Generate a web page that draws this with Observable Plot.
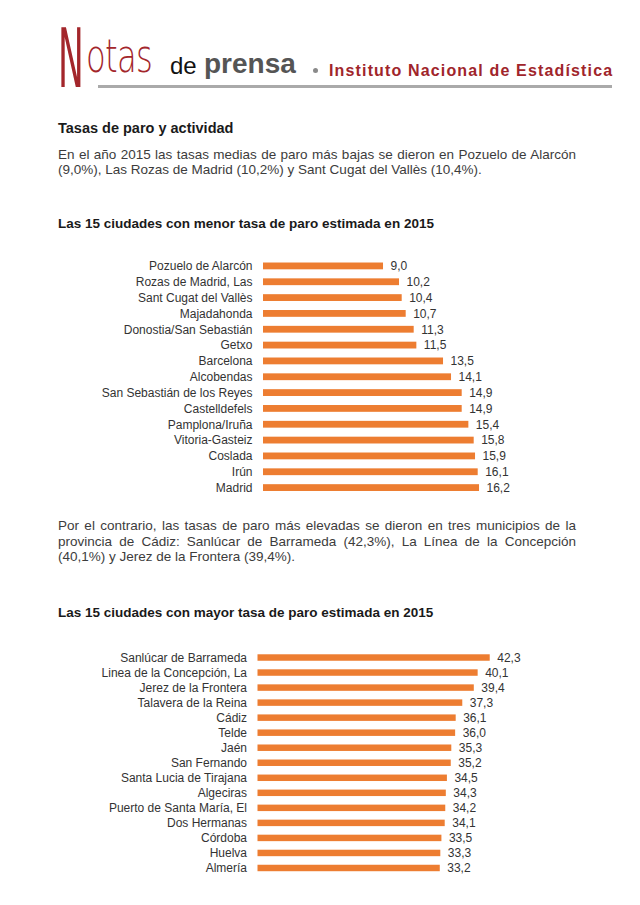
<!DOCTYPE html>
<html>
<head>
<meta charset="utf-8">
<script src="https://cdn.jsdelivr.net/npm/d3@7"></script>
<script src="https://cdn.jsdelivr.net/npm/@observablehq/plot@0.6"></script>
<style>
  html, body { margin: 0; padding: 0; background: #fff; }
  #page { position: relative; width: 640px; height: 905px; overflow: hidden; font-family: "Liberation Sans", Arial, sans-serif; }
  .abs { position: absolute; white-space: nowrap; }
  .para { position: absolute; left: 58px; width: 518px; font-size: 13.5px; line-height: 15.5px; color: #3c3c3c; text-align: justify; white-space: normal; }
  .sub { position: absolute; left: 58px; font-size: 13.5px; line-height: 16px; font-weight: bold; color: #1a1a1a; white-space: nowrap; }
  .chart { position: absolute; left: 0; }
</style>
</head>
<body>
<div id="page">
  <div class="abs" style="left:58px;top:18.4px;color:#a3262b;font-family:'DejaVu Sans';font-size:82px;line-height:1;font-weight:normal;transform:scaleX(0.42);transform-origin:left top;">N</div>
  <div class="abs" style="left:86px;top:33px;color:#a3262b;font-family:'DejaVu Sans';font-size:46px;line-height:1;font-weight:200;transform:scaleX(0.7);transform-origin:left top;letter-spacing:-1px;">otas</div>
  <div class="abs" style="left:170px;top:53.7px;font-size:24px;line-height:1;color:#111;">de</div>
  <div class="abs" style="left:204px;top:50.3px;font-size:28px;line-height:1;font-weight:bold;color:#555;">prensa</div>
  <div class="abs" style="left:313px;top:68px;width:5px;height:5px;border-radius:50%;background:#8a8a8a;"></div>
  <div class="abs" style="left:329px;top:62.5px;font-size:16px;line-height:1;font-weight:bold;letter-spacing:1.15px;color:#a0252b;">Instituto Nacional de Estadística</div>
  <div class="abs" style="left:98px;top:85px;width:514px;height:3px;background:#aaaaaa;"></div>

  <div class="abs" style="left:58px;top:119.8px;font-size:14.5px;line-height:17px;font-weight:bold;color:#1a1a1a;">Tasas de paro y actividad</div>
  <div class="para" style="top:146.9px;">En el año 2015 las tasas medias de paro más bajas se dieron en Pozuelo de Alarcón (9,0%), Las Rozas de Madrid (10,2%) y Sant Cugat del Vallès (10,4%).</div>
  <div class="sub" style="top:215.6px;">Las 15 ciudades con menor tasa de paro estimada en 2015</div>
  <div class="chart" id="chart1" style="top:257.8px;"></div>

  <div class="para" style="top:518.3px;">Por el contrario, las tasas de paro más elevadas se dieron en tres municipios de la provincia de Cádiz: Sanlúcar de Barrameda (42,3%), La Línea de la Concepción (40,1%) y Jerez de la Frontera (39,4%).</div>
  <div class="sub" style="top:604.6px;">Las 15 ciudades con mayor tasa de paro estimada en 2015</div>
  <div class="chart" id="chart2" style="top:649.8px;"></div>
</div>
<script>
const cities1 = ["Pozuelo de Alarcón", "Rozas de Madrid, Las", "Sant Cugat del Vallès", "Majadahonda", "Donostia/San Sebastián", "Getxo", "Barcelona", "Alcobendas", "San Sebastián de los Reyes", "Castelldefels", "Pamplona/Iruña", "Vitoria-Gasteiz", "Coslada", "Irún", "Madrid"];
const values1 = [9.0, 10.2, 10.4, 10.7, 11.3, 11.5, 13.5, 14.1, 14.9, 14.9, 15.4, 15.8, 15.9, 16.1, 16.2];

const cities2 = ["Sanlúcar de Barrameda", "Linea de la Concepción, La", "Jerez de la Frontera", "Talavera de la Reina", "Cádiz", "Telde", "Jaén", "San Fernando", "Santa Lucia de Tirajana", "Algeciras", "Puerto de Santa María, El", "Dos Hermanas", "Córdoba", "Huelva", "Almería"];
const values2 = [42.3, 40.1, 39.4, 37.3, 36.1, 36.0, 35.3, 35.2, 34.5, 34.3, 34.2, 34.1, 33.5, 33.3, 33.2];

const fmt = v => v.toFixed(1).replace(".", ",");
const orange = "#ed7d31";

function barChart(cities, values, opts) {
  const data = cities.map((c, i) => ({city: c, value: values[i]}));
  return Plot.plot({
    width: 640,
    height: opts.height,
    marginLeft: opts.marginLeft,
    marginRight: opts.marginRight,
    marginTop: 0,
    marginBottom: 0,
    style: {fontFamily: "'Liberation Sans', Arial, sans-serif", fontSize: "12px", color: "#333", background: "transparent"},
    x: {domain: [0, opts.xmax], axis: null},
    y: {domain: cities, paddingInner: 0.57, paddingOuter: 0.285, round: false, label: null},
    marks: [
      Plot.barX(data, {x: "value", y: "city", fill: orange}),
      Plot.text(data, {x: "value", y: "city", text: d => fmt(d.value), textAnchor: "start", dx: 7, fill: "#333", fontSize: 12}),
      Plot.axisY({tickSize: 0, tickPadding: 11, fontSize: 12, label: null})
    ]
  });
}

document.getElementById("chart1").appendChild(barChart(cities1, values1, {height: 237.5, marginLeft: 263, marginRight: 110.3, xmax: 20}));
document.getElementById("chart2").appendChild(barChart(cities2, values2, {height: 225.5, marginLeft: 257.5, marginRight: 108, xmax: 50}));
</script>
</body>
</html>
